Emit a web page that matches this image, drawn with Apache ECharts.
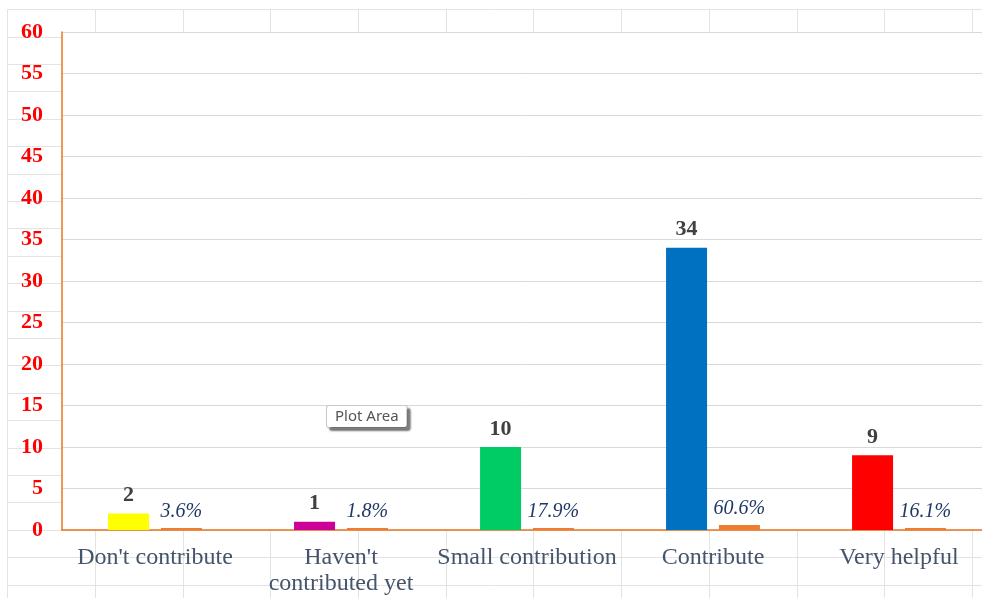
<!DOCTYPE html>
<html>
<head>
<meta charset="utf-8">
<script src="https://cdn.jsdelivr.net/npm/echarts@6/dist/echarts.min.js"></script>
<style>
  html, body { margin: 0; padding: 0; background: #ffffff; }
  #chart { width: 982px; height: 598px; }
</style>
</head>
<body>
<div id="chart"></div>
<script>
// Survey answers and how many respondents chose each
const categories = ["Don't contribute", "Haven't contributed yet", "Small contribution", "Contribute", "Very helpful"];
const counts = [2, 1, 10, 34, 9];
const shares = [0.036, 0.018, 0.179, 0.606, 0.161];
const countColors = ['#ffff00', '#cc0099', '#00cc66', '#0070c0', '#ff0000'];
const yTicks = { min: 0, max: 60, step: 5 };

const serif = '"Liberation Serif", "Times New Roman", serif';

const chart = echarts.init(document.getElementById('chart'), null, { renderer: 'canvas' });

chart.setOption({
  animation: false,
  backgroundColor: '#ffffff',
  grid: [
    // worksheet cell lines behind the chart
    { left: 7.5, top: 9.5, right: 0, bottom: 0, z: 0, outerBoundsMode: 'none' },
    // plot area, running past the right edge of the window
    { left: 62, top: 32, width: 930, bottom: 68, show: true, backgroundColor: '#ffffff', borderWidth: 0, z: 1, outerBoundsMode: 'none' }
  ],
  xAxis: [
    {
      gridIndex: 0, type: 'value', min: 0, max: 974.5 / 87.7, interval: 1, z: 0,
      axisLine: { show: false }, axisTick: { show: false }, axisLabel: { show: false },
      splitLine: { show: true, lineStyle: { color: '#e3e3e3', width: 1 } }
    },
    {
      gridIndex: 1, type: 'category', data: categories, z: 2,
      axisLine: { show: true, lineStyle: { color: '#e87722', width: 1.5 } },
      axisTick: { show: false },
      axisLabel: {
        interval: 0, margin: 15, color: '#44546a', fontFamily: serif, fontSize: 24, lineHeight: 26,
        formatter: v => v === "Haven't contributed yet" ? "Haven't\ncontributed yet" : v
      }
    }
  ],
  yAxis: [
    {
      gridIndex: 0, type: 'value', inverse: true, min: 0, max: 588.5 / 27.4, interval: 1, z: 0,
      axisLine: { show: false }, axisTick: { show: false }, axisLabel: { show: false },
      splitLine: { show: true, lineStyle: { color: '#e3e3e3', width: 1 } }
    },
    {
      gridIndex: 1, type: 'value', min: yTicks.min, max: yTicks.max, interval: yTicks.step, z: 2,
      axisLine: { show: true, lineStyle: { color: '#e87722', width: 1.5 } },
      axisTick: { show: false },
      axisLabel: { margin: 19, color: '#ff0000', fontFamily: serif, fontWeight: 'bold', fontSize: 22 },
      splitLine: { show: true, lineStyle: { color: '#d9d9d9', width: 1 } }
    }
  ],
  series: [
    {
      name: 'Count', type: 'bar', xAxisIndex: 1, yAxisIndex: 1, z: 3,
      barWidth: 41, barGap: '29%',
      data: counts.map((v, i) => ({ value: v, itemStyle: { color: countColors[i] } })),
      label: {
        show: true, position: 'top', distance: 7,
        color: '#404040', fontFamily: serif, fontWeight: 'bold', fontSize: 22
      }
    },
    {
      name: 'Share', type: 'bar', xAxisIndex: 1, yAxisIndex: 1, z: 3,
      barWidth: 41, barMinHeight: 2,
      itemStyle: { color: '#ed7d31' },
      data: shares,
      label: {
        show: true, position: 'top', distance: 6,
        color: '#1f3864', fontFamily: serif, fontStyle: 'italic', fontSize: 20,
        formatter: p => (p.value * 100).toFixed(1) + '%'
      }
    }
  ],
  graphic: [
    {
      type: 'text', left: 326, top: 405, z: 10,
      style: {
        text: 'Plot Area', fill: '#555555', font: '15px "Noto Sans", "Open Sans", sans-serif',
        backgroundColor: '#ffffff', borderColor: '#c8c8c8', borderWidth: 1, borderRadius: 2,
        padding: [3, 8, 3, 8],
        shadowColor: 'rgba(0,0,0,0.45)', shadowOffsetX: 3, shadowOffsetY: 3, shadowBlur: 2
      }
    }
  ]
});
</script>
</body>
</html>
